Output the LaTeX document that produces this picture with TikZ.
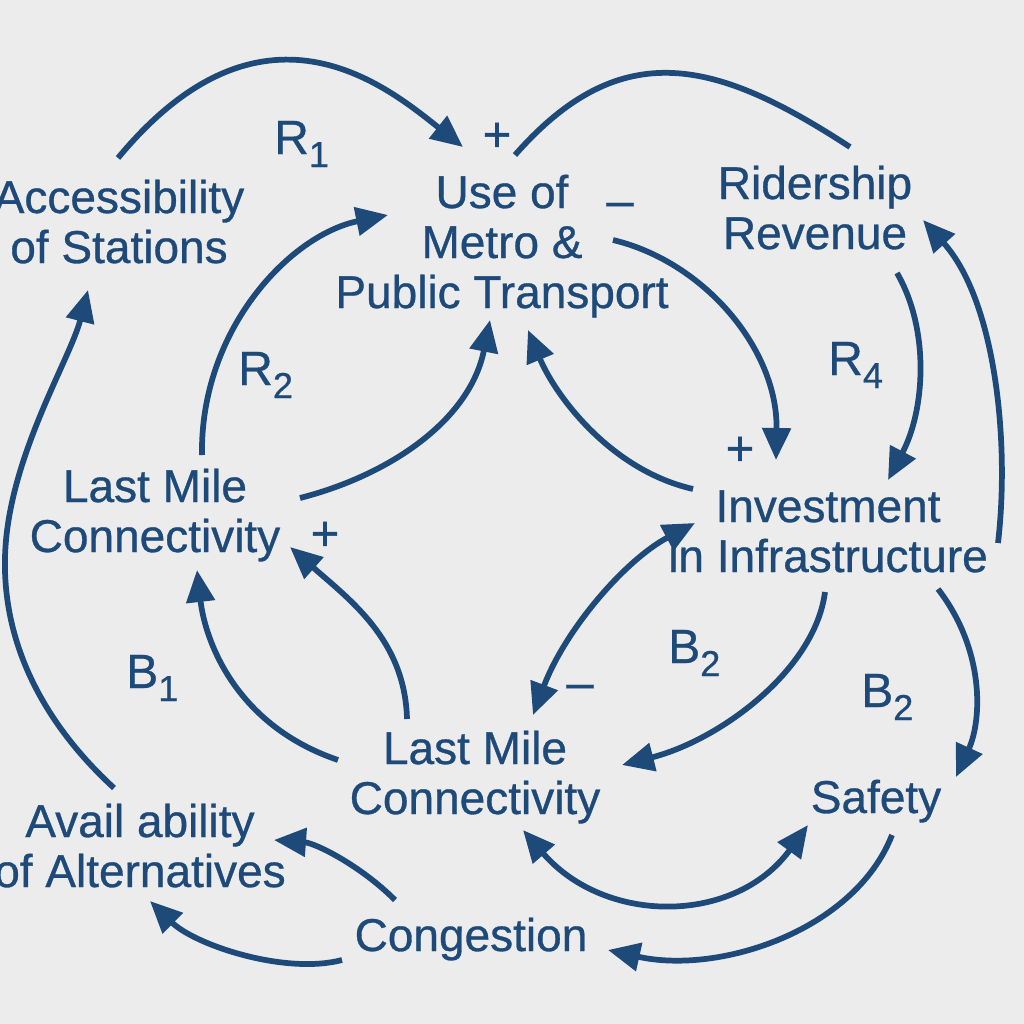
\documentclass[tikz,border=0pt]{standalone}
\usepackage{fontspec}
\setmainfont{Liberation Sans}
\newfontfamily\cldfont{Liberation Sans}[FakeBold=0.7]
\usetikzlibrary{arrows.meta,calc}
\definecolor{cldblue}{RGB}{30,74,122}
\definecolor{cldbg}{RGB}{236,236,236}
\newcommand\cldsub[1]{\raisebox{-9.75pt}{\fontsize{27}{27}\selectfont #1}}
\begin{document}
\begin{tikzpicture}[x=0.75pt,y=-0.75pt,
  var/.style={text=cldblue,font=\cldfont\fontsize{34.5}{37.5}\selectfont,align=center,inner sep=0pt},
  lbl/.style={text=cldblue,font=\cldfont\fontsize{36}{40}\selectfont,inner sep=0pt,anchor=base west},
  pol/.style={text=cldblue,font=\cldfont\fontsize{37}{40}\selectfont,inner sep=0pt},
  cplain/.style={draw=cldblue,line width=4.3pt},
  clink/.style={cplain,-{Triangle[length=24pt,width=21pt]}},
  cboth/.style={cplain,{Triangle[length=24pt,width=21pt]}-{Triangle[length=24pt,width=21pt]}}]
\fill[cldbg] (0,0) rectangle (1024,1024);
\useasboundingbox (0,0) rectangle (1024,1024);

% variables
\node[var] (access) at (119,228) {Accessibility\strut\\of Stations\strut};
\node[var] (use)    at (502,248) {Use of\strut\\Metro \&\\Public Transport\strut};
\node[var] (rider)  at (815,214) {Ridership\strut\\Revenue\strut};
\node[var] (lmL)    at (155,517) {Last Mile\strut\\Connectivity\strut};
\node[var] (invest) at (828,537) {Investment\strut\\in Infrastructure\strut};
\node[var] (lmB)    at (475,779) {Last Mile\strut\\Connectivity\strut};
\node[var] (safety) at (876,803) {Safety\strut};
\node[var] (avail)  at (140,852) {Avail ability\strut\\of Alternatives\strut};
\node[var] (cong)   at (471,941) {Congestion\strut};

% loop labels
\node[lbl] (r1)  at (274,154) {R\cldsub{1}};
\node[lbl] (r2)  at (238,385) {R\cldsub{2}};
\node[lbl] (r4)  at (828,375) {R\cldsub{4}};
\node[lbl] (b1)  at (126,688) {B\cldsub{1}};
\node[lbl] (b2a) at (668,663) {B\cldsub{2}};
\node[lbl] (b2b) at (861,707) {B\cldsub{2}};

% polarities
\node[pol] (p1) at (497,137) {+};
\node[pol] (m1) at (620,210) {–};
\node[pol] (p2) at (740,451) {+};
\node[pol] (p3) at (325,536) {+};
\node[pol] (m2) at (580,692) {–};

% connectors
\draw[clink] ($(access)+(-1,-70)$) .. controls (262,-16) and (385,85) .. ($(use)+(-39,-101)$);
\draw[cplain] ($(use)+(13,-93)$) .. controls (622,33) and (718,61) .. ($(rider)+(35,-67)$);
\draw[clink] ($(lmL)+(47,-62)$) .. controls (200,330) and (290,235) .. ($(use)+(-114,-33)$);
\draw[clink] ($(lmL)+(145,-19)$) .. controls (390,475) and (470,420) .. ($(use)+(-12,72)$);
\draw[clink] ($(invest)+(-135,-48)$) .. controls (610,470) and (555,395) .. ($(use)+(26,82)$);
\draw[clink] ($(use)+(111,-8)$) .. controls (705,262) and (778,350) .. ($(invest)+(-52,-77)$);
\draw[clink] ($(rider)+(82,59)$) .. controls (930,330) and (925,410) .. ($(invest)+(60,-57)$);
\draw[clink] ($(invest)+(170,6)$) .. controls (1010,440) and (995,300) .. ($(rider)+(108,6)$);
\draw[cboth] ($(invest)+(-133,-14)$) .. controls (625,560) and (565,630) .. ($(lmB)+(58,-64)$);
\draw[clink] ($(invest)+(-3,55)$) .. controls (815,670) and (720,740) .. ($(lmB)+(147,-14)$);
\draw[clink] ($(invest)+(110,52)$) .. controls (985,650) and (982,720) .. ($(safety)+(80,-26)$);
\draw[cboth] ($(lmB)+(48,51)$) .. controls (605,925) and (735,925) .. ($(safety)+(-68,22)$);
\draw[clink] ($(safety)+(16,32)$) .. controls (855,930) and (720,975) .. ($(cong)+(137,9)$);
\draw[clink] ($(cong)+(-76,-41)$) .. controls (360,865) and (315,843) .. ($(avail)+(134,-12)$);
\draw[clink] ($(cong)+(-129,19)$) .. controls (285,975) and (195,945) .. ($(avail)+(10,49)$);
\draw[clink] ($(lmB)+(-137,-19)$) .. controls (235,725) and (205,640) .. ($(lmL)+(42,53)$);
\draw[clink] ($(lmB)+(-68,-60)$) .. controls (405,640) and (350,600) .. ($(lmL)+(135,30)$);
\coordinate (leftbend) at (5,558);
\draw[clink] ($(avail)+(-26,-64)$) .. controls (40,720) and (3,640) .. (leftbend)
  .. controls (7,460) and (70,360) .. ($(access)+(-31,62)$);
\end{tikzpicture}
\end{document}
